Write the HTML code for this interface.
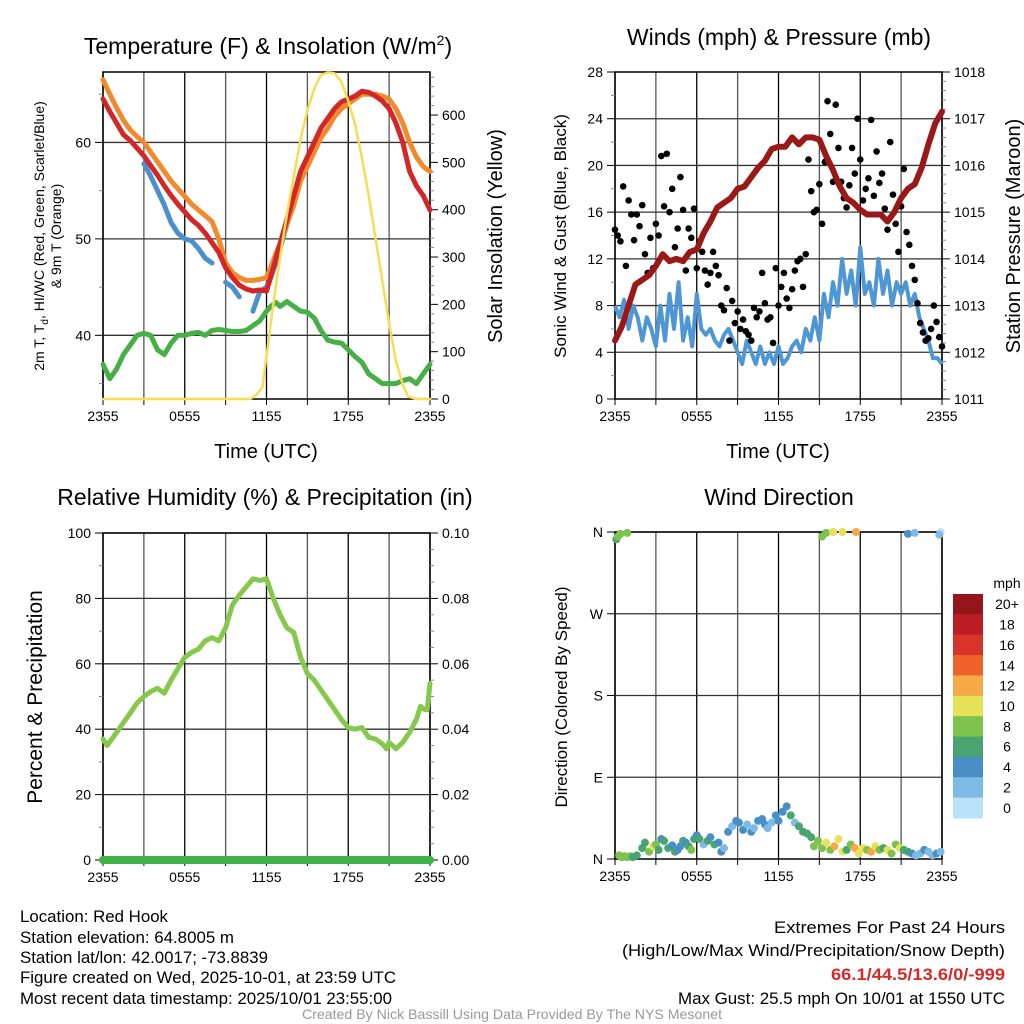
<!DOCTYPE html>
<html><head><meta charset="utf-8"><style>
html,body{margin:0;padding:0;background:#fff;}
svg{display:block;font-family:"Liberation Sans",sans-serif;}
</style></head><body>
<svg id="svg" width="1024" height="1024" viewBox="0 0 1024 1024" xmlns="http://www.w3.org/2000/svg">
<g id="g1"></g>
<g id="g2"></g>
<g id="g3"></g>
<g id="g4"></g>
<g font-size="17" fill="#000">
<text x="20" y="922" textLength="148" lengthAdjust="spacingAndGlyphs">Location: Red Hook</text>
<text x="20" y="943" textLength="214" lengthAdjust="spacingAndGlyphs">Station elevation: 64.8005 m</text>
<text x="20" y="963" textLength="248" lengthAdjust="spacingAndGlyphs">Station lat/lon: 42.0017; -73.8839</text>
<text x="20" y="983" textLength="376" lengthAdjust="spacingAndGlyphs">Figure created on Wed, 2025-10-01, at 23:59 UTC</text>
<text x="20" y="1004" textLength="372" lengthAdjust="spacingAndGlyphs">Most recent data timestamp: 2025/10/01 23:55:00</text>
<text x="774" y="933" textLength="231" lengthAdjust="spacingAndGlyphs">Extremes For Past 24 Hours</text>
<text x="622" y="956" textLength="383" lengthAdjust="spacingAndGlyphs">(High/Low/Max Wind/Precipitation/Snow Depth)</text>
<text x="831" y="980" textLength="174" lengthAdjust="spacingAndGlyphs" fill="#d42a2a" font-weight="bold">66.1/44.5/13.6/0/-999</text>
<text x="678" y="1004" textLength="327" lengthAdjust="spacingAndGlyphs">Max Gust: 25.5 mph On 10/01 at 1550 UTC</text>
<text x="302" y="1019" textLength="420" lengthAdjust="spacingAndGlyphs" font-size="14" fill="#999">Created By Nick Bassill Using Data Provided By The NYS Mesonet</text>
</g>
</svg>
<script>
// ---- data ----
const xTickLabels = ["2355","0555","1155","1755","2355"];
const tempRedH = [0,0.5,1,1.5,2,2.5,3,3.5,4,4.5,5,5.5,6,6.5,7,7.5,8,8.5,9,9.5,10,10.5,11,11.5,12,12.3,12.7,13,13.5,14,14.5,15,15.5,16,16.5,17,17.5,18,18.5,19,19.5,20,20.5,21,21.5,22,22.5,23,23.5,24];
const tempRedV = [64.5,63.2,62,60.8,60.2,59.4,58.6,57.6,56.6,55.5,54.5,53.6,52.8,52,51.4,50.6,49.6,48.6,47,46,45.2,44.8,44.6,44.7,44.6,46,48,49.5,52,54.5,57,58.5,60,61.5,62.5,63.5,64.2,64.5,64.8,65.3,65.2,64.8,64.3,63.5,62,60,57,55.5,54.5,53];
const tempOrgV = [66.5,65,63.6,62.3,61.3,60.6,60,59,58,57,56,55.2,54.4,53.6,53,52.4,51.8,50,47.5,46.5,46,45.7,45.7,45.8,46,47,48.5,49.5,51.5,53.5,56,57.5,59,60.5,61.5,62.7,63.5,64,64.5,65,65,65,64.8,64.5,63.5,62,60,58.5,57.5,57];
const tempBlueV = [null,null,null,null,null,null,57.8,56.5,55,53.5,51.7,50.6,50,49.8,49,48,47.5,null,45.5,45,44,null,42.5,44.5,45,46,47.5,49,51.5,54,56.5,58,null,null,null,null,null,null,null,null,null,null,null,null,null,null,null,null,null,null];
const dewV = [37,35.5,36.5,38,39,40,40.2,40,38.5,38,39.2,40,40,40.2,40.3,40,40.5,40.6,40.5,40.4,40.4,40.5,41,41.5,42.5,43,43.4,43,43.5,43,42.5,42.4,41.8,40.5,39.5,39.3,39.2,38.5,37.8,37.2,36,35.5,35,35,35,35.3,35.5,35,36,37];
const solarH = [0,10.8,11.3,11.7,12,12.5,13,13.5,14,14.5,15,15.5,16,16.5,17,17.5,18,18.5,19,19.5,20,20.5,21,21.5,22,22.4,23,24];
const solarV = [0,0,10,25,90,200,300,390,470,550,610,655,685,690,688,670,630,580,510,430,340,250,160,80,30,5,0,0];
const windV = [8,7,8.5,6,8,7,5,7,6,4.5,8,5,9,6,10,5,7,4.5,9,6,5.5,6,5,4.5,5.5,6,5,4,3,5,4,3,4.5,3,4,3,4.5,3,3.5,4.5,5,4,6,5,7,5,9,7,10,8,12,9,11,8,13,9,10,8,12,9,11,8,10,9,10,8,9,7,6,5,3.5,3.5,3];
const gustH = [0,0.2,0.4,0.6,0.8,1,1.2,1.4,1.6,1.8,2,2.2,2.4,2.6,2.8,3,3.2,3.4,3.6,3.8,4,4.2,4.4,4.6,4.8,5,5.2,5.4,5.6,5.8,6,6.2,6.4,6.6,6.8,7,7.2,7.4,7.6,7.8,8,8.2,8.4,8.6,8.8,9,9.2,9.4,9.6,9.8,10,10.2,10.4,10.6,10.8,11,11.2,11.4,11.6,11.8,12,12.2,12.4,12.6,12.8,13,13.2,13.4,13.6,13.8,14,14.2,14.4,14.6,14.8,15,15.2,15.4,15.6,15.8,16,16.2,16.4,16.6,16.8,17,17.2,17.4,17.6,17.8,18,18.2,18.4,18.6,18.8,19,19.2,19.4,19.6,19.8,20,20.2,20.4,20.6,20.8,21,21.2,21.4,21.6,21.8,22,22.2,22.4,22.6,22.8,23,23.2,23.4,23.6,23.8,24];
const gustV = [14.5,14,13.5,18.2,11.4,17,15.8,13.6,15.8,14.8,16.6,12.4,10.8,13.8,11.2,15,14,20.8,16.5,21,16,18,13,14.6,19,16.2,11,14.6,13.8,16.3,11.2,13.5,12.6,11,9.8,10.8,12.6,11.4,10.6,8,7.6,9.5,5,8.4,6.5,7.5,6,6.8,5.8,5.5,5,7.8,7,7.5,10.8,8.2,6.8,7,4.8,11.2,8,9.6,10.8,8.6,7.8,9.4,11,11.8,12,9.6,12.4,20.5,17.8,16,16.2,18.4,15,20.3,25.5,22.7,18.6,25.2,21.5,18.6,17.2,16.4,18.3,21.5,19.3,24,20.5,17,18,18.9,23.9,17.4,21.2,18.5,19.3,16.3,14.5,22,17.5,15,12.6,16.5,19.7,14.3,13.2,11.4,10.2,8.2,6.5,5.7,5,5.2,6,8,6.6,5.3,4.5];
const pressH = [0,0.5,1,1.5,2,2.5,3,3.5,4,4.5,5,5.5,6,6.5,7,7.5,8,8.5,9,9.5,10,10.5,11,11.5,12,12.5,13,13.5,14,14.5,15,15.5,16,16.5,17,17.5,18,18.5,19,19.5,20,20.5,21,21.5,22,22.5,23,23.5,24];
const pressV = [1012.25,1012.55,1013.0,1013.45,1013.55,1013.65,1013.85,1014.1,1013.95,1014.0,1013.95,1014.15,1014.2,1014.55,1014.8,1015.1,1015.2,1015.3,1015.5,1015.55,1015.75,1015.95,1016.1,1016.35,1016.4,1016.4,1016.6,1016.45,1016.6,1016.6,1016.55,1016.2,1015.9,1015.55,1015.3,1015.2,1015.05,1014.95,1014.95,1014.95,1014.8,1015.0,1015.3,1015.5,1015.6,1015.95,1016.45,1016.9,1017.15];
const rhH = [0,0.3,1,1.5,2,2.5,3,3.5,4,4.5,5,5.5,6,6.5,7,7.5,8,8.5,9,9.5,10,10.5,11,11.5,12,12.5,13,13.5,14,14.5,15,15.5,16,16.5,17,17.5,18,18.5,19,19.5,20,20.5,20.8,21,21.5,22,22.5,23,23.3,23.6,23.8,24];
const rhV = [37,35,39,42,45,48,50,51.5,52.5,51,55,58.5,62,63.5,64.5,67,68,67,71,78,81,83.5,86,85.5,86,80,75,71,69.5,62,57,55,52,49,46,43,40.5,40,40.5,37.5,37,35.5,34,36,34,36,39,43,47,46,46,54];
const precipH = [0,24];
const precipV = [0,0];
const dirH = [0.1,0.2,0.4,0.9,0.3,0.5,0.7,0.9,1.1,1.3,1.6,2,2.2,2.5,2.8,3,3.2,3.4,3.6,3.9,4.2,4.4,4.6,4.8,5,5.2,5.4,5.6,5.8,6,6.2,6.5,6.8,7,7.3,7.6,7.8,8,8.3,8.6,8.9,9.1,9.4,9.7,10,10.2,10.5,10.8,11,11.2,11.5,11.8,12,12.3,12.6,12.9,13.2,13.5,13.8,14.1,14.4,14.6,14.9,15.2,15.5,15.8,16.1,16.4,16.7,17,17.3,17.6,17.9,18.2,18.5,18.8,19.1,19.4,19.7,20,20.3,20.6,20.9,21.2,21.5,21.8,22.1,22.4,22.7,23,23.3,23.6,23.9,15.2,15.5,16.0,16.7,17.7,21.5,22.0,23.9,23.8];
const dirD = [352,355,358,359,4,2,3,2,3,2,4,12,18,8,14,16,10,22,20,12,15,8,10,14,20,18,14,10,22,26,22,16,20,24,16,18,8,12,30,36,42,40,32,38,30,34,42,44,38,34,40,48,42,52,58,48,40,36,30,28,24,14,20,12,18,10,14,22,8,10,16,12,6,12,10,8,14,10,12,10,6,16,12,10,8,6,4,6,10,8,4,6,8,355,359,360,360,360,358,359,360,357];
const dirS = [7,8,8,8,8,8,8,8,8,6,6,6,6,8,10,8,6,4,7,6,4,6,4,5,6,4,6,8,6,5,7,3,6,4,7,4,5,3,4,2,4,4,4,3,4,2,4,4,4,2,3,4,5,4,4,6,3,6,7,6,7,8,9,9,10,8,12,11,10,6,8,13,11,10,9,12,11,8,7,10,8,8,10,7,6,4,3,2,4,3,2,4,3,8,9,10,10,13,4,2,1,3];
const cbLabels = ["20+","18","16","14","12","10","8","6","4","2","0"];
const cbColors = ["#94161b","#bc1d26","#d9342a","#ee6329","#f5a846","#e6e157","#7cc24d","#48a56f","#488fc6","#7ebae6","#b8e3f8"];
</script>
<script>
const NS="http://www.w3.org/2000/svg";
function mk(p,tag,a){const e=document.createElementNS(NS,tag);for(const k in a)e.setAttribute(k,a[k]);p.appendChild(e);return e;}
function txt(p,x,y,s,a){const e=mk(p,"text",Object.assign({x:x,y:y},a));e.textContent=s;return e;}
function hx(L,R){return h=>L+(R-L)*h/24;}
function lin(d0,d1,p0,p1){return v=>p0+(v-d0)*(p1-p0)/(d1-d0);}
function pathD(H,V,sx,sy){let d="",pen=false;for(let i=0;i<H.length;i++){if(V[i]==null){pen=false;continue;}d+=(pen?"L":"M")+sx(H[i]).toFixed(1)+","+sy(V[i]).toFixed(1);pen=true;}return d;}
function frame(g,L,R,T,B,gridYs,sy){
  const sx=hx(L,R);
  for(let k=0;k<=8;k++){const x=sx(k*3);
    const ln=mk(g,"line",{x1:x,x2:x,y1:T,y2:B,stroke:k%2?"#555":"#000","stroke-width":1.3});
    
    
    mk(g,"line",{x1:x,x2:x,y1:B,y2:B+6,stroke:"#000","stroke-width":1});
  }
  gridYs.forEach(v=>{const y=sy(v);
    const ln=mk(g,"line",{x1:L,x2:R,y1:y,y2:y,stroke:"#333","stroke-width":1.3});
    
    
  });
  mk(g,"rect",{x:L,y:T,width:R-L,height:B-T,fill:"none",stroke:"#000","stroke-width":1.5});
  xTickLabels.forEach((s,i)=>{const t=txt(g,sx(i*6),B+22,s,{"text-anchor":"middle","font-size":14});
    
    
  });
}
function leftTicks(g,L,vals,sy,fmt){vals.forEach(v=>{const y=sy(v);mk(g,"line",{x1:L-8,x2:L,y1:y,y2:y,stroke:"#000"});const t=txt(g,L-12,y+5,fmt(v),{"text-anchor":"end","font-size":14});
  
  });}
function rightTicks(g,R,vals,sy,fmt){vals.forEach(v=>{const y=sy(v);mk(g,"line",{x1:R,x2:R+8,y1:y,y2:y,stroke:"#000"});const t=txt(g,R+12,y+5,fmt(v),{"font-size":14});
  
  });}
function minor(g,x,vals,sy,dir){vals.forEach(v=>{const y=sy(v);mk(g,"line",{x1:x,x2:x+4*dir,y1:y,y2:y,stroke:"#888"});});}

(function(){
const g=document.getElementById("g1");const L=103,R=430,T=72,B=399;
const sx=hx(L,R), sy=lin(33.4,67.3,B,T), sr=lin(0,691,B,T);
frame(g,L,R,T,B,[40,50,60],sy);
leftTicks(g,L,[40,50,60],sy,v=>v);
minor(g,L,[35,45,55,65],sy,-1);
rightTicks(g,R,[0,100,200,300,400,500,600],sr,v=>v);
const mins=[];for(let v=20;v<=680;v+=20)if(v%100)mins.push(v);minor(g,R,mins,sr,1);
const add=(H,V,col,w,name,s)=>{const p=mk(g,"path",{d:pathD(H,V,sx,s||sy),fill:"none",stroke:col,"stroke-width":w,"stroke-linejoin":"round","stroke-linecap":"round"});
  
  };
add(tempRedH,dewV,"#46b046",5,"dewpoint-line");
add(tempRedH,tempBlueV,"#4a90cc",5,"heat-index-wind-chill-line");
add(tempRedH,tempOrgV,"#f08a2c",5,"temp-9m-line");
add(tempRedH,tempRedV,"#d42626",5,"temp-2m-line");
add(solarH,solarV,"#f6dd52",2.5,"solar-insolation-line",sr);
const t1=txt(g,268,54,"Temperature (F) & Insolation (W/m",{"text-anchor":"middle","font-size":23});

const ts=mk(t1,"tspan",{dy:-9,"font-size":14});ts.textContent="2";
const ts2=mk(t1,"tspan",{dy:9});ts2.textContent=")";
const xt=txt(g,266,458,"Time (UTC)",{"text-anchor":"middle","font-size":20});

const yt=mk(g,"text",{transform:"translate(44,236) rotate(-90)","text-anchor":"middle","font-size":14});

const a=mk(yt,"tspan",{x:0,dy:0});a.textContent="2m T, T";const sub=mk(yt,"tspan",{"font-size":10,dy:4});sub.textContent="d";const b=mk(yt,"tspan",{dy:-4});b.textContent=", HI/WC (Red, Green, Scarlet/Blue)";
const c=mk(yt,"tspan",{x:0,dy:17});c.textContent="& 9m T (Orange)";
const rt=txt(g,0,0,"Solar Insolation (Yellow)",{transform:"translate(502,236) rotate(-90)","text-anchor":"middle","font-size":20});

})();

(function(){
const g=document.getElementById("g2");const L=615,R=942,T=72,B=399;
const sx=hx(L,R), sy=lin(0,28,B,T), sp=lin(1011,1018,B,T);
frame(g,L,R,T,B,[4,8,12,16,20,24],sy);
leftTicks(g,L,[0,4,8,12,16,20,24,28],sy,v=>v);
minor(g,L,[2,6,10,14,18,22,26],sy,-1);
rightTicks(g,R,[1011,1012,1013,1014,1015,1016,1017,1018],sp,v=>v);
const mm=[];for(let v=1011.2;v<1018;v+=0.2)if(Math.abs(v-Math.round(v))>0.05)mm.push(v);minor(g,R,mm,sp,1);
const wh=windV.map((v,i)=>i*24/(windV.length-1));
const p=mk(g,"path",{d:pathD(wh,windV,sx,sy),fill:"none",stroke:"#4f97d4","stroke-width":4,"stroke-linejoin":"round"});

gustH.forEach((h,i)=>{const c=mk(g,"circle",{cx:sx(h),cy:sy(gustV[i]),r:3.3,fill:"#000"});
  
  });
const pp=mk(g,"path",{d:pathD(pressH,pressV,sx,sp),fill:"none",stroke:"#9b1818","stroke-width":6,"stroke-linejoin":"round","stroke-linecap":"round"});

const t=txt(g,779,45,"Winds (mph) & Pressure (mb)",{"text-anchor":"middle","font-size":23});

const xt=txt(g,778,458,"Time (UTC)",{"text-anchor":"middle","font-size":20});

const yt=txt(g,0,0,"Sonic Wind & Gust (Blue, Black)",{transform:"translate(566,236) rotate(-90)","text-anchor":"middle","font-size":17});

const rt=txt(g,0,0,"Station Pressure (Maroon)",{transform:"translate(1020,236) rotate(-90)","text-anchor":"middle","font-size":20});

})();

(function(){
const g=document.getElementById("g3");const L=103,R=430,T=533,B=860;
const sx=hx(L,R), sy=lin(0,100,B,T), sr=lin(0,0.1,B,T);
frame(g,L,R,T,B,[20,40,60,80,100],sy);
leftTicks(g,L,[0,20,40,60,80,100],sy,v=>v);
minor(g,L,[10,30,50,70,90],sy,-1);
rightTicks(g,R,[0,0.02,0.04,0.06,0.08,0.1],sr,v=>v.toFixed(2));
const mm=[];for(let i=1;i<20;i++)if(i%4)mm.push(i*0.005);minor(g,R,mm,sr,1);
const p=mk(g,"path",{d:pathD(rhH,rhV,sx,sy),fill:"none",stroke:"#86c84c","stroke-width":5,"stroke-linejoin":"round","stroke-linecap":"round"});

const q=mk(g,"path",{d:pathD(precipH,precipV,sx,sr),fill:"none",stroke:"#3eb244","stroke-width":8,"stroke-linecap":"round"});

const t=txt(g,265,505,"Relative Humidity (%) & Precipitation (in)",{"text-anchor":"middle","font-size":23});

const yt=txt(g,0,0,"Percent & Precipitation",{transform:"translate(42,697) rotate(-90)","text-anchor":"middle","font-size":21});

})();

(function(){
const g=document.getElementById("g4");const L=615,R=942,T=532,B=859;
const sx=hx(L,R), sy=lin(0,360,B,T);
frame(g,L,R,T,B,[90,180,270,360],sy);
leftTicks(g,L,[0,90,180,270,360],sy,v=>["N","E","S","W","N"][v/90]);
const col=s=>cbColors[10-Math.min(10,Math.floor(s/2))];
dirH.forEach((h,i)=>{const c=mk(g,"circle",{cx:sx(h),cy:sy(dirD[i]),r:4,fill:col(dirS[i])});
  
  });
const t=txt(g,779,505,"Wind Direction",{"text-anchor":"middle","font-size":23});

const yt=txt(g,0,0,"Direction (Colored By Speed)",{transform:"translate(567,697) rotate(-90)","text-anchor":"middle","font-size":17});

const cb=mk(g,"g",{});

const h=(818-594)/11;
cbColors.forEach((c,i)=>{const r=mk(cb,"rect",{x:953,y:594+i*h,width:30,height:h+0.5,fill:c});
  
  
  const l=txt(cb,1007,594+i*h+h/2+5,cbLabels[i],{"text-anchor":"middle","font-size":14});
  
  });
const u=txt(cb,1007,588,"mph",{"text-anchor":"middle","font-size":14});

})();
</script>
</body></html>
